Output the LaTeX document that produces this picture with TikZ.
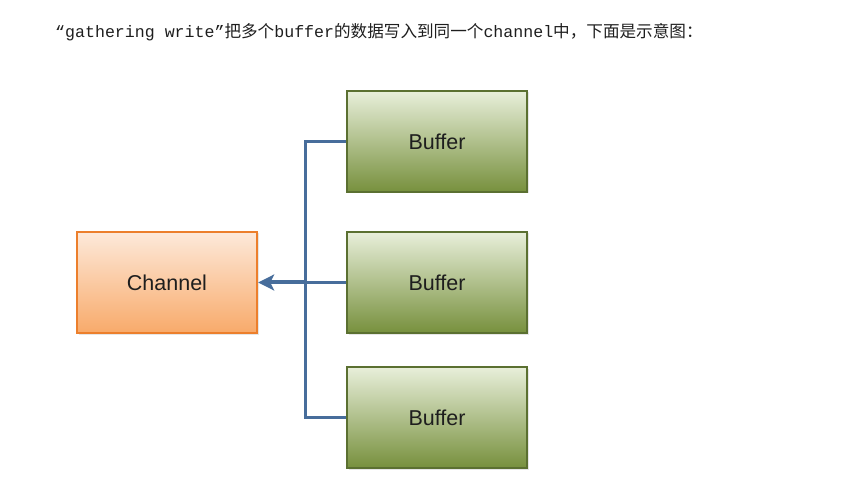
\documentclass[tikz,border=0pt]{standalone}
\usepackage{fontspec}
\setmainfont{Liberation Sans}
\setmonofont{Liberation Mono}
\newfontfamily\cjk{Noto Sans CJK SC}
\usepackage{xcolor}
\usetikzlibrary{arrows.meta,positioning,shadows}
\definecolor{BufTop}{HTML}{E8EFDA}
\definecolor{BufBottom}{HTML}{77903D}
\definecolor{BufEdge}{HTML}{5B7031}
\definecolor{ChanTop}{HTML}{FDE9DA}
\definecolor{ChanBottom}{HTML}{F8AA6A}
\definecolor{ChanEdge}{HTML}{EC7F2C}
\definecolor{LinkBlue}{HTML}{476D9B}
\definecolor{LabelInk}{HTML}{1E1E1E}

\begin{document}
\begin{tikzpicture}[x=1pt,y=-1pt,
  box/.style={minimum width=180pt,minimum height=101pt,inner sep=0pt,
    line width=2.4pt,font=\fontsize{21.5}{25}\selectfont,text=LabelInk,
    drop shadow={opacity=0.2,shadow xshift=1.5pt,shadow yshift=-1.5pt}},
  bufbox/.style={box,draw=BufEdge,top color=BufTop,bottom color=BufBottom},
  chanbox/.style={box,draw=ChanEdge,top color=ChanTop,bottom color=ChanBottom},
  link/.style={LinkBlue,line width=3pt}]
  \useasboundingbox (0,0) rectangle (841,489);

  % Caption line.
  \node[anchor=west,inner sep=0pt,text=LabelInk,font=\fontsize{16.6}{20}\selectfont]
    (caption) at (55,32)
    {\ttfamily “gathering write”\cjk 把多个\ttfamily buffer\cjk 的数据写入到同一个\ttfamily channel\cjk 中，下面是示意图：};

  % Buffers and channel.
  \node[bufbox] (buf1) at (437,141.5) {Buffer};
  \node[bufbox] (buf2) at (437,282.5) {Buffer};
  \node[bufbox] (buf3) at (437,417.5) {Buffer};
  \node[chanbox] (channel) at (167,282.5) {Channel};

  % Gathering lines.
  \coordinate (hub) at (305,282.5);
  \draw[link] (buf1.west) -| (hub) |- (buf3.west);
  \draw[link] (buf2.west) -- (hub);
  \draw[link,line width=4pt,-{Stealth[length=16pt,width=16pt,inset=4pt]}]
    (hub) -- (channel.east);
\end{tikzpicture}
\end{document}
